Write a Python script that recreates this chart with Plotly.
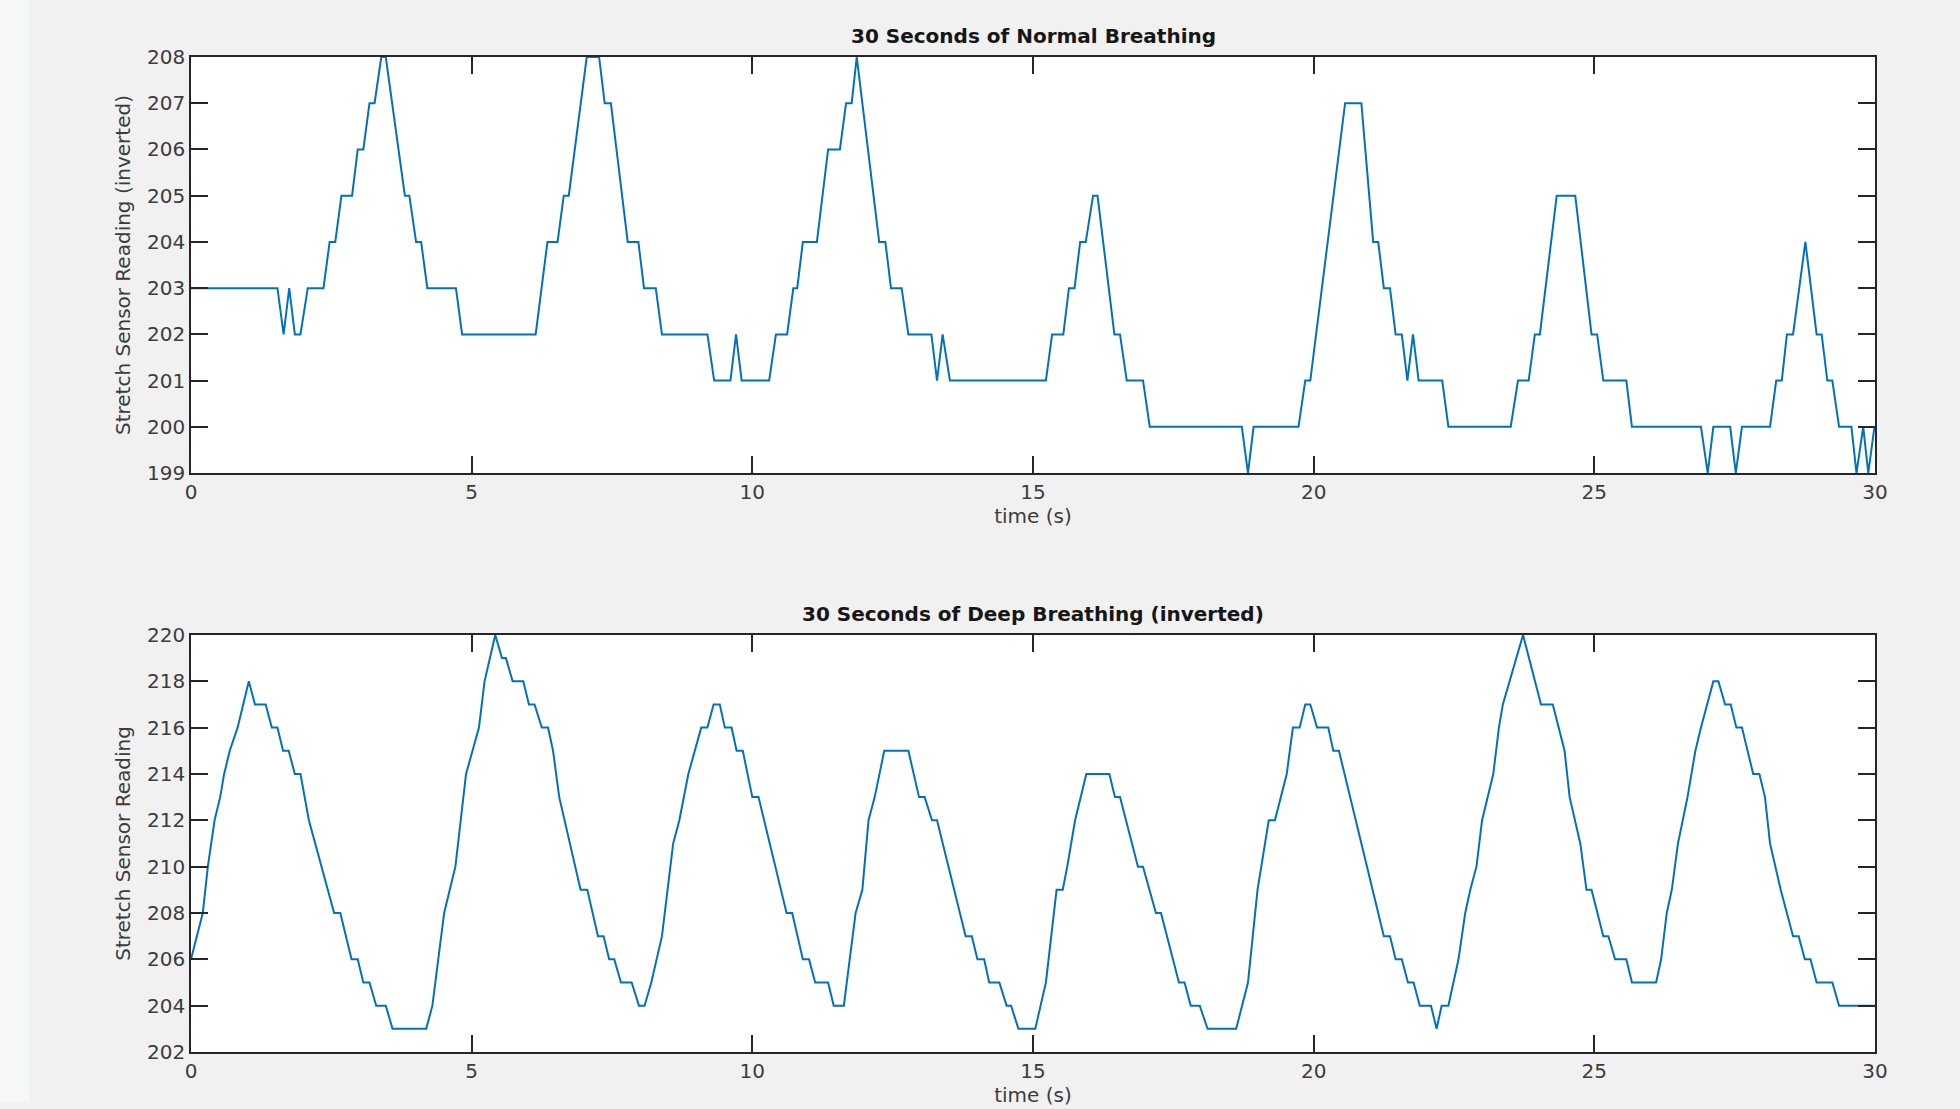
import plotly.graph_objects as go

# ---- data ----
normal_t = [0, 1.54, 1.65, 1.75, 1.85, 1.95, 2.08, 2.36, 2.47, 2.57,
            2.68, 2.87, 2.97, 3.07, 3.18, 3.27, 3.39, 3.47, 3.81, 3.89,
            4.01, 4.10, 4.21, 4.72, 4.83, 6.14, 6.35, 6.53, 6.64, 6.73,
            7.05, 7.27, 7.37, 7.48, 7.78, 7.97, 8.07, 8.28, 8.39, 9.20,
            9.32, 9.61, 9.71, 9.81, 10.30, 10.42, 10.62, 10.73, 10.80, 10.90,
            11.15, 11.35, 11.56, 11.67, 11.77, 11.86, 12.26, 12.37, 12.47, 12.66,
            12.78, 13.19, 13.29, 13.39, 13.52, 15.23, 15.34, 15.54, 15.64, 15.74,
            15.84, 15.94, 16.07, 16.15, 16.45, 16.55, 16.67, 16.96, 17.08, 18.72,
            18.83, 18.93, 19.73, 19.85, 19.94, 20.56, 20.85, 21.06, 21.15, 21.25,
            21.36, 21.46, 21.57, 21.67, 21.77, 21.87, 22.29, 22.40, 23.51, 23.64,
            23.83, 23.94, 24.03, 24.33, 24.66, 24.95, 25.05, 25.16, 25.57, 25.67,
            26.90, 27.02, 27.12, 27.42, 27.52, 27.63, 28.13, 28.24, 28.34, 28.43,
            28.54, 28.76, 28.96, 29.05, 29.15, 29.24, 29.36, 29.58, 29.67, 29.79,
            29.88, 29.99]
normal_v = [203, 203, 202, 203, 202, 202, 203, 203, 204, 204,
            205, 205, 206, 206, 207, 207, 208, 208, 205, 205,
            204, 204, 203, 203, 202, 202, 204, 204, 205, 205,
            208, 208, 207, 207, 204, 204, 203, 203, 202, 202,
            201, 201, 202, 201, 201, 202, 202, 203, 203, 204,
            204, 206, 206, 207, 207, 208, 204, 204, 203, 203,
            202, 202, 201, 202, 201, 201, 202, 202, 203, 203,
            204, 204, 205, 205, 202, 202, 201, 201, 200, 200,
            199, 200, 200, 201, 201, 207, 207, 204, 204, 203,
            203, 202, 202, 201, 202, 201, 201, 200, 200, 201,
            201, 202, 202, 205, 205, 202, 202, 201, 201, 200,
            200, 199, 200, 200, 199, 200, 200, 201, 201, 202,
            202, 204, 202, 202, 201, 201, 200, 200, 199, 200,
            199, 200]

deep_t = [0, 0.21, 0.30, 0.42, 0.52, 0.59, 0.69, 0.83, 1.03, 1.14,
          1.33, 1.44, 1.54, 1.64, 1.74, 1.85, 1.95, 2.10, 2.55, 2.66,
          2.86, 2.97, 3.07, 3.18, 3.30, 3.47, 3.59, 4.19, 4.30, 4.51,
          4.61, 4.71, 4.90, 5.13, 5.23, 5.42, 5.54, 5.61, 5.73, 5.92,
          6.02, 6.12, 6.25, 6.36, 6.45, 6.56, 6.94, 7.06, 7.25, 7.35,
          7.45, 7.54, 7.66, 7.85, 7.98, 8.08, 8.20, 8.39, 8.59, 8.70,
          8.86, 9.09, 9.20, 9.31, 9.42, 9.51, 9.63, 9.72, 9.83, 10.00,
          10.11, 10.61, 10.71, 10.90, 11.01, 11.12, 11.35, 11.45, 11.63, 11.84,
          11.96, 12.07, 12.18, 12.35, 12.78, 12.97, 13.07, 13.20, 13.29, 13.80,
          13.91, 14.01, 14.13, 14.22, 14.40, 14.53, 14.61, 14.74, 15.04, 15.23,
          15.42, 15.53, 15.61, 15.75, 15.95, 16.36, 16.46, 16.55, 16.87, 16.96,
          17.19, 17.28, 17.60, 17.70, 17.81, 17.97, 18.11, 18.62, 18.83, 19.00,
          19.20, 19.31, 19.52, 19.63, 19.75, 19.85, 19.94, 20.06, 20.26, 20.35,
          20.45, 21.25, 21.36, 21.46, 21.57, 21.68, 21.78, 21.89, 22.09, 22.19,
          22.28, 22.40, 22.58, 22.70, 22.79, 22.90, 23.00, 23.20, 23.30, 23.37,
          23.73, 24.05, 24.26, 24.36, 24.47, 24.56, 24.75, 24.86, 24.95, 25.16,
          25.25, 25.37, 25.57, 25.67, 26.10, 26.19, 26.29, 26.38, 26.49, 26.66,
          26.80, 26.90, 27.12, 27.21, 27.33, 27.43, 27.53, 27.63, 27.83, 27.94,
          28.04, 28.13, 28.32, 28.54, 28.64, 28.75, 28.85, 28.96, 29.24, 29.36,
          30.00]
deep_v = [206, 208, 210, 212, 213, 214, 215, 216, 218, 217,
          217, 216, 216, 215, 215, 214, 214, 212, 208, 208,
          206, 206, 205, 205, 204, 204, 203, 203, 204, 208,
          209, 210, 214, 216, 218, 220, 219, 219, 218, 218,
          217, 217, 216, 216, 215, 213, 209, 209, 207, 207,
          206, 206, 205, 205, 204, 204, 205, 207, 211, 212,
          214, 216, 216, 217, 217, 216, 216, 215, 215, 213,
          213, 208, 208, 206, 206, 205, 205, 204, 204, 208,
          209, 212, 213, 215, 215, 213, 213, 212, 212, 207,
          207, 206, 206, 205, 205, 204, 204, 203, 203, 205,
          209, 209, 210, 212, 214, 214, 213, 213, 210, 210,
          208, 208, 205, 205, 204, 204, 203, 203, 205, 209,
          212, 212, 214, 216, 216, 217, 217, 216, 216, 215,
          215, 207, 207, 206, 206, 205, 205, 204, 204, 203,
          204, 204, 206, 208, 209, 210, 212, 214, 216, 217,
          220, 217, 217, 216, 215, 213, 211, 209, 209, 207,
          207, 206, 206, 205, 205, 206, 208, 209, 211, 213,
          215, 216, 218, 218, 217, 217, 216, 216, 214, 214,
          213, 211, 209, 207, 207, 206, 206, 205, 205, 204,
          204]

assert len(normal_t) == len(normal_v)
assert len(deep_t) == len(deep_v)

x_ticks = [0, 5, 10, 15, 20, 25, 30]
top_y_ticks = [199, 200, 201, 202, 203, 204, 205, 206, 207, 208]
bottom_y_ticks = [202, 204, 206, 208, 210, 212, 214, 216, 218, 220]

top_title = "30 Seconds of Normal Breathing"
bottom_title = "30 Seconds of Deep Breathing (inverted)"
x_label = "time (s)"
top_y_label = "Stretch Sensor Reading (inverted)"
bottom_y_label = "Stretch Sensor Reading"

# ---- style ----
LINE = "#0072BD"
AX = "#262626"
LBL = "#3c3c3c"
BG = "#f0f1f0"
FONT = "DejaVu Sans"

fig = go.Figure()
fig.add_trace(go.Scatter(x=normal_t, y=normal_v, mode="lines",
                         line=dict(color=LINE, width=2), xaxis="x", yaxis="y",
                         showlegend=False))
fig.add_trace(go.Scatter(x=deep_t, y=deep_v, mode="lines",
                         line=dict(color=LINE, width=2), xaxis="x2", yaxis="y2",
                         showlegend=False))

W, H = 1960, 1109
ml, mr, mt, mb = 191, 85, 57, 50
ph = H - mt - mb
top_dom = [1 - (476 - mt) / ph, 1]
bot_dom = [0, (1059 - 639) / ph]

common_axis = dict(showgrid=False, zeroline=False, showline=True, linecolor=AX,
                   linewidth=1.5, mirror="ticks", ticks="inside", ticklen=17,
                   tickwidth=1.5, tickcolor=AX,
                   tickfont=dict(family=FONT, size=20, color=LBL))

fig.update_layout(
    width=W, height=H,
    paper_bgcolor=BG, plot_bgcolor="white",
    margin=dict(l=ml, r=mr, t=mt, b=mb),
    xaxis=dict(common_axis, domain=[0, 1], range=[0, 30], tickvals=x_ticks,
               anchor="y",
               title=dict(text=x_label, font=dict(family=FONT, size=20, color=LBL),
                          standoff=0)),
    yaxis=dict(common_axis, domain=top_dom, range=[199, 208], tickvals=top_y_ticks,
               anchor="x",
               title=dict(text=top_y_label, font=dict(family=FONT, size=20, color=LBL),
                          standoff=11)),
    xaxis2=dict(common_axis, domain=[0, 1], range=[0, 30], tickvals=x_ticks,
                anchor="y2",
                title=dict(text=x_label, font=dict(family=FONT, size=20, color=LBL),
                           standoff=0)),
    yaxis2=dict(common_axis, domain=bot_dom, range=[202, 220], tickvals=bottom_y_ticks,
                anchor="x2",
                title=dict(text=bottom_y_label, font=dict(family=FONT, size=20, color=LBL),
                           standoff=11)),
    annotations=[
        dict(text=top_title, xref="paper", yref="paper", x=0.5, y=top_dom[1],
             xanchor="center", yanchor="bottom", yshift=7, showarrow=False,
             font=dict(family=FONT, size=20, color="#161616", weight="bold")),
        dict(text=bottom_title, xref="paper", yref="paper", x=0.5, y=bot_dom[1],
             xanchor="center", yanchor="bottom", yshift=7, showarrow=False,
             font=dict(family=FONT, size=20, color="#161616", weight="bold")),
    ],
    shapes=[
        dict(type="rect", xref="paper", yref="paper", layer="below",
             x0=-ml / (W - ml - mr), x1=(29 - ml) / (W - ml - mr),
             y0=-mb / ph, y1=1 + mt / ph, line=dict(width=0), fillcolor="#f6f7f7"),
    ],
)

fig.write_html(
    "out.html",
    config={"displayModeBar": False},
    post_script="document.body.style.margin='0';document.body.style.background='%s';" % BG,
)
